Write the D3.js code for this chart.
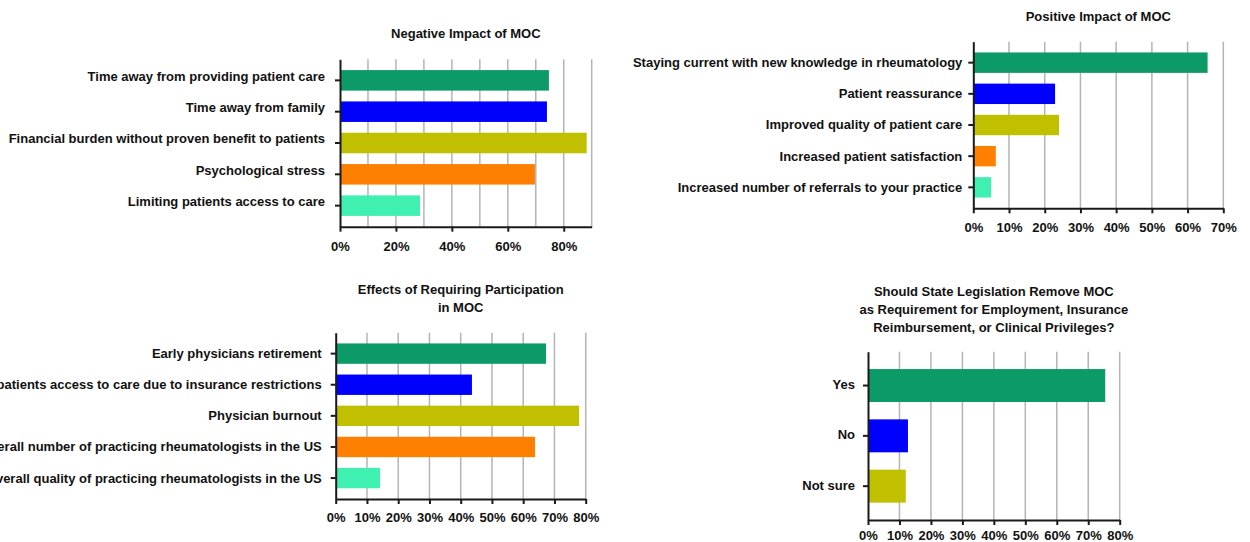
<!DOCTYPE html>
<html>
<head>
<meta charset="utf-8">
<script src="https://cdn.jsdelivr.net/npm/d3@7"></script>
<style>
  body { margin: 0; background: #fff; }
  svg { display: block; }
</style>
</head>
<body>
<svg id="chart" width="1250" height="542"></svg>
<script>
// Bar colours, shared by all four panels (in category order)
const barColors = ["#0c9a66", "#0000ff", "#c0c000", "#ff8000", "#40f0b0"];

// Negative Impact of MOC
const negativeCategories = [
  "Time away from providing patient care",
  "Time away from family",
  "Financial burden without proven benefit to patients",
  "Psychological stress",
  "Limiting patients access to care"
];
const negativeValues = [74.7, 74.0, 88.2, 69.7, 28.6];
const negativeTicks = [0, 20, 40, 60, 80];

// Positive Impact of MOC
const positiveCategories = [
  "Staying current with new knowledge in rheumatology",
  "Patient reassurance",
  "Improved quality of patient care",
  "Increased patient satisfaction",
  "Increased number of referrals to your practice"
];
const positiveValues = [65.6, 22.9, 24.0, 6.3, 5.0];
const positiveTicks = [0, 10, 20, 30, 40, 50, 60, 70];

// Effects of Requiring Participation in MOC
const effectsCategories = [
  "Early physicians retirement",
  "Limiting patients access to care due to insurance restrictions",
  "Physician burnout",
  "Decreased overall number of practicing rheumatologists in the US",
  "Decreased overall quality of practicing rheumatologists in the US"
];
const effectsValues = [67.3, 43.6, 77.9, 63.8, 14.2];
const effectsTicks = [0, 10, 20, 30, 40, 50, 60, 70, 80];

// Should State Legislation Remove MOC ...
const legislationCategories = ["Yes", "No", "Not sure"];
const legislationValues = [75.4, 12.7, 12.0];
const legislationTicks = [0, 10, 20, 30, 40, 50, 60, 70, 80];

const panels = [
  {
    title: ["Negative Impact of MOC"], titleY: 38,
    cats: negativeCategories, vals: negativeValues, ticks: negativeTicks, max: 90,
    x0: 340, x1: 591.7, top: 59.3, bottom: 226.7, labelGap: 15, labelDy: -3, tickPad: 10
  },
  {
    title: ["Positive Impact of MOC"], titleY: 21,
    cats: positiveCategories, vals: positiveValues, ticks: positiveTicks, max: 70,
    x0: 973.3, x1: 1223.3, top: 41.7, bottom: 208.3, labelGap: 11, labelDy: 1, tickPad: 9
  },
  {
    title: ["Effects of Requiring Participation", "in MOC"], titleY: 293.5,
    cats: effectsCategories, vals: effectsValues, ticks: effectsTicks, max: 80,
    x0: 335.7, x1: 585.7, top: 332.7, bottom: 499, labelGap: 14, labelDy: 1, tickPad: 9
  },
  {
    title: ["Should State Legislation Remove MOC", "as Requirement for Employment, Insurance",
            "Reimbursement, or Clinical Privileges?"], titleY: 295.5,
    cats: legislationCategories, vals: legislationValues, ticks: legislationTicks, max: 80,
    x0: 868, x1: 1119.7, top: 351.7, bottom: 520, labelGap: 13, labelDy: 0, tickPad: 6
  }
];

const FONT = "Arial, 'Liberation Sans', Helvetica, sans-serif";
const svg = d3.select("#chart");

panels.forEach(p => {
  const g = svg.append("g");

  const x = d3.scaleLinear().domain([0, p.max]).range([p.x0, p.x1]);
  const y = d3.scaleBand().domain(p.cats).range([p.top, p.bottom]).padding(0.345);

  // title
  g.append("text")
    .attr("x", (p.x0 + p.x1) / 2)
    .attr("y", p.titleY)
    .attr("text-anchor", "middle")
    .style("font-family", FONT).style("font-weight", "bold").style("font-size", "13px")
    .attr("fill", "#111")
    .selectAll("tspan").data(p.title).join("tspan")
      .attr("x", (p.x0 + p.x1) / 2)
      .attr("dy", (d, i) => i === 0 ? 0 : 18.3)
      .text(d => d);

  // vertical gridlines every 10%
  g.append("g").selectAll("line")
    .data(d3.range(10, p.max + 0.001, 10))
    .join("line")
      .attr("x1", d => x(d)).attr("x2", d => x(d))
      .attr("y1", p.top).attr("y2", p.bottom)
      .attr("stroke", "#b4b4b4").attr("stroke-width", 1.5);

  // bars
  g.append("g").selectAll("rect")
    .data(p.cats.map((c, i) => ({ c, v: p.vals[i], i })))
    .join("rect")
      .attr("x", x(0))
      .attr("y", d => y(d.c))
      .attr("width", d => x(d.v) - x(0))
      .attr("height", y.bandwidth())
      .attr("fill", d => barColors[d.i]);

  // x axis
  const xAxis = g.append("g")
    .attr("transform", `translate(0,${p.bottom})`)
    .call(d3.axisBottom(x).tickValues(p.ticks).tickFormat(d => d + "%")
      .tickSize(5).tickSizeOuter(0).tickPadding(p.tickPad));
  xAxis.select(".domain").attr("stroke", "#1a1a1a").attr("stroke-width", 2);
  xAxis.selectAll(".tick line").attr("stroke", "#1a1a1a").attr("stroke-width", 2);
  xAxis.selectAll(".tick text")
    .style("font-family", FONT).style("font-weight", "bold").style("font-size", "13px")
    .attr("fill", "#111");

  // y axis with category labels
  const yAxis = g.append("g")
    .attr("transform", `translate(${p.x0},0)`)
    .call(d3.axisLeft(y).tickSize(5).tickSizeOuter(0).tickPadding(p.labelGap - 5));
  yAxis.select(".domain").attr("stroke", "#1a1a1a").attr("stroke-width", 2);
  yAxis.selectAll(".tick line").attr("stroke", "#1a1a1a").attr("stroke-width", 2);
  yAxis.selectAll(".tick text")
    .style("font-family", FONT).style("font-weight", "bold").style("font-size", "13px")
    .attr("fill", "#111")
    .attr("dy", null)
    .attr("y", p.labelDy)
    .attr("dominant-baseline", "middle");
});
</script>
</body>
</html>
